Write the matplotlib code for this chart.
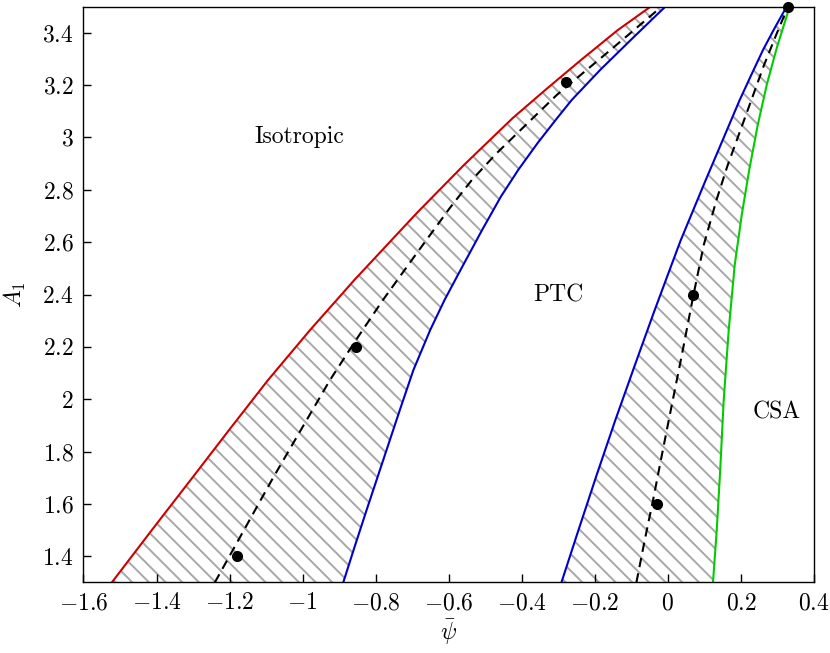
import numpy as np
import matplotlib
matplotlib.use("Agg")
import matplotlib.pyplot as plt
from matplotlib.ticker import FuncFormatter

plt.rcParams['font.family'] = 'serif'
plt.rcParams['font.serif'] = ['cmr10', 'DejaVu Serif']
plt.rcParams['mathtext.fontset'] = 'cm'
plt.rcParams['axes.unicode_minus'] = False
plt.rcParams['hatch.linewidth'] = 1.4

# left band: red boundary, blue boundary, dashed middle (psi_bar, A1)
red_x = [-1.5225, -1.4158, -1.3076, -1.2022, -1.0955, -0.9805, -0.8587, -0.6876, -0.5589,
         -0.4248, -0.3358, -0.2386, -0.1373, -0.0470]
red_y = [1.300, 1.495, 1.690, 1.881, 2.072, 2.263, 2.455, 2.711, 2.894,
         3.074, 3.181, 3.295, 3.410, 3.500]

blue1_x = [-0.8888, -0.8573, -0.8253, -0.7798, -0.7341, -0.6969, -0.6509, -0.6115, -0.5680,
           -0.5088, -0.4576, -0.4097, -0.3564, -0.3071, -0.2633, -0.1853, -0.1018, -0.0068]
blue1_y = [1.300, 1.438, 1.575, 1.766, 1.958, 2.111, 2.264, 2.379, 2.493,
           2.646, 2.773, 2.876, 2.979, 3.067, 3.143, 3.258, 3.372, 3.500]

dash1_x = [-1.2405, -1.1611, -1.0817, -1.0051, -0.9257, -0.8546, -0.7807, -0.6958, -0.5973,
           -0.5370, -0.4686, -0.3865, -0.3044, -0.2360, -0.1675, -0.0963, -0.0169]
dash1_y = [1.300, 1.499, 1.698, 1.882, 2.072, 2.225, 2.378, 2.542, 2.730,
           2.837, 2.940, 3.051, 3.162, 3.242, 3.322, 3.406, 3.500]

# right band: blue boundary, green boundary, dashed middle
blue2_x = [-0.2915, -0.2479, -0.1968, -0.1442, -0.0925, -0.0394, -0.0016, 0.0351, 0.0693,
           0.1035, 0.1501, 0.1966, 0.2281, 0.2604, 0.2924, 0.3253]
blue2_y = [1.300, 1.487, 1.703, 1.919, 2.122, 2.328, 2.470, 2.607, 2.722,
           2.837, 2.990, 3.143, 3.238, 3.334, 3.418, 3.500]

green_x = [0.1235, 0.1337, 0.1432, 0.1528, 0.1665, 0.1829, 0.2021, 0.2226, 0.2459, 0.2705, 0.2979, 0.3335]
green_y = [1.300, 1.499, 1.728, 1.996, 2.263, 2.512, 2.703, 2.875, 3.047, 3.200, 3.341, 3.500]

dash2_x = [-0.0862, -0.0635, -0.0407, -0.0156, 0.0096, 0.0378, 0.0687, 0.0980, 0.1328,
           0.1637, 0.1966, 0.2294, 0.2623, 0.2951, 0.3289]
dash2_y = [1.300, 1.461, 1.614, 1.793, 1.970, 2.166, 2.389, 2.588, 2.760,
           2.894, 3.020, 3.146, 3.273, 3.387, 3.500]

# marked points
dots_x = [-1.18, -0.855, -0.28, -0.03, 0.07, 0.33]
dots_y = [1.40, 2.20, 3.21, 1.60, 2.40, 3.50]

xticks = [-1.6, -1.4, -1.2, -1.0, -0.8, -0.6, -0.4, -0.2, 0.0, 0.2, 0.4]
yticks = [1.4, 1.6, 1.8, 2.0, 2.2, 2.4, 2.6, 2.8, 3.0, 3.2, 3.4]

fig = plt.figure(figsize=(8.3, 6.53), dpi=100)
ax = fig.add_axes([0.1006, 0.108, 0.8801, 0.882])

hatch_col = '#a8a8a8'
ax.fill(red_x + blue1_x[::-1], red_y + blue1_y[::-1], facecolor='none',
        edgecolor=hatch_col, hatch='\\\\', linewidth=0)
ax.fill(blue2_x + green_x[::-1], blue2_y + green_y[::-1], facecolor='none',
        edgecolor=hatch_col, hatch='\\\\', linewidth=0)

ax.plot(red_x, red_y, color='#cc0000', lw=1.5)
ax.plot(blue1_x, blue1_y, color='#0000cc', lw=1.5)
ax.plot(blue2_x, blue2_y, color='#0000cc', lw=1.5)
ax.plot(green_x, green_y, color='#00cc00', lw=1.5)
ax.plot(dash1_x, dash1_y, color='black', lw=1.5, dashes=(4.5, 3))
ax.plot(dash2_x, dash2_y, color='black', lw=1.5, dashes=(4.5, 3))
ax.plot(dots_x, dots_y, 'o', color='black', ms=7, clip_on=False, zorder=5)

ax.text(-1.008, 3.0, 'Isotropic', fontsize=17, ha='center', va='center')
ax.text(-0.301, 2.397, 'PTC', fontsize=17, ha='center', va='center')
ax.text(0.298, 1.95, 'CSA', fontsize=17, ha='center', va='center')

ax.set_xlim(-1.6, 0.4)
ax.set_ylim(1.3, 3.5)
ax.set_xticks(xticks)
ax.set_yticks(yticks)
fmt = FuncFormatter(lambda v, p: '$%g$' % (0 if abs(v) < 1e-9 else round(v, 2)))
ax.xaxis.set_major_formatter(fmt)
ax.yaxis.set_major_formatter(fmt)
ax.tick_params(direction='in', length=6, width=1, labelsize=17, top=False, right=False, pad=7)
for s in ax.spines.values():
    s.set_linewidth(1.0)

ax.set_xlabel(r'$\bar{\psi}$', fontsize=17, labelpad=2)
ax.set_ylabel(r'$A_1$', fontsize=17, labelpad=10)

fig.savefig('out.png', dpi=100)
